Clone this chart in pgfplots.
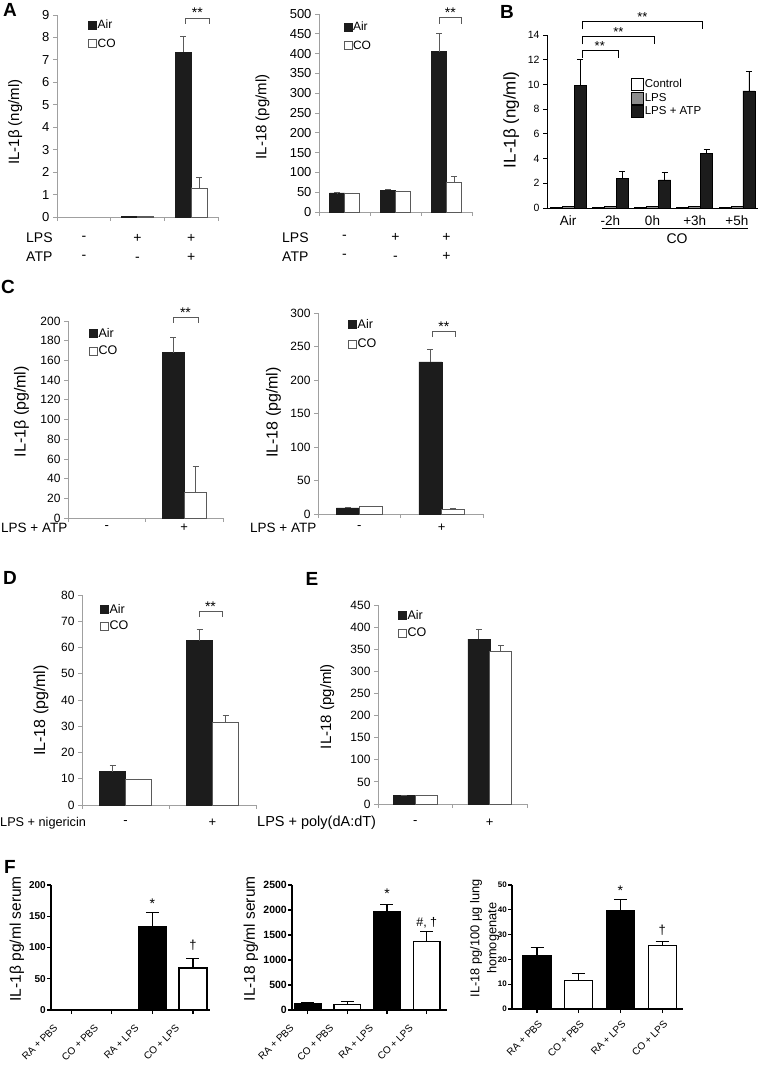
\documentclass[border=0pt]{standalone}
\usepackage{fontspec}
\setmainfont{Liberation Sans}
\usepackage{pgfplots}
\pgfplotsset{compat=1.18}

\newcommand\fs[2]{\fontsize{#1}{#2}\selectfont}
\definecolor{barblk}{HTML}{1C1C1C}
\definecolor{axgray}{HTML}{A0A0A0}
\definecolor{errgray}{HTML}{5A5A5A}
\definecolor{lpsgray}{HTML}{8C8C8C}
\tikzset{br/.style={errgray, line width=0.7pt}}

\pgfplotsset{
  every axis/.append style={scale only axis, anchor=south west, clip=false,
    /pgf/number format/assume math mode=true, /pgf/number format/1000 sep={}},
  % excel look (A, C, D, E)
  xl/.style={
    ybar=0pt, ymin=0,
    axis x line*=bottom, axis y line*=left,
    axis line style={axgray, line width=0.8pt},
    tick style={axgray, line width=0.8pt},
    tick align=outside, major tick length=4pt,
    xticklabels={},
    yticklabel style={font=\fs{13}{15}},
    ylabel style={font=\fs{15}{18}, anchor=center},
    legend style={draw=none, fill=none, anchor=north west, font=\fs{12}{14},
      row sep=6pt, nodes={inner sep=0.8pt}},
    legend cell align=left,
    legend image code/.code={\draw[##1] (0pt,-4pt) rectangle (8pt,4pt);},
  },
  xrow/.style 2 args={extra x tick style={major tick length=0pt,
    xticklabel style={align=center, anchor=center, font=#1, yshift=#2}}},
  air/.style={fill=barblk, draw=barblk,
    error bars/y dir=plus, error bars/y explicit,
    error bars/error bar style={errgray, line width=0.7pt},
    error bars/error mark options={rotate=90, mark size=3pt, errgray, line width=0.7pt}},
  co/.style={fill=white, draw=errgray, line width=0.6pt,
    error bars/y dir=plus, error bars/y explicit,
    error bars/error bar style={errgray, line width=0.7pt},
    error bars/error mark options={rotate=90, mark size=3pt, errgray, line width=0.7pt}},
  % graphpad look (F)
  gp/.style={
    ymin=0,
    axis x line*=bottom, axis y line*=left,
    axis line style={black, line width=1.3pt},
    tick style={black, line width=1.3pt},
    tick align=outside, major tick length=4pt,
    xtick={0,1,2,3}, xticklabels={RA + PBS, CO + PBS, RA + LPS, CO + LPS},
    ylabel style={font=\fs{15.5}{18}, anchor=center, align=center},
  },
  gplab/.style n args={3}{
    xticklabel style={xshift=#1, yshift=#2, rotate=45, anchor=north east,
      font=\fs{10}{12}, inner sep=1pt},
    yticklabel style={font=\bfseries\fs{#3}{11}, inner sep=1pt}},
  gpbar/.style 2 args={ybar, bar shift=0pt, bar width=#1, fill=#2, draw=black, line width=1.3pt,
    error bars/y dir=plus, error bars/y explicit,
    error bars/error bar style={black, line width=1.3pt},
    error bars/error mark options={rotate=90, mark size=6.5pt, black, line width=1.3pt}},
}

\begin{document}
\begin{tikzpicture}
\path[use as bounding box] (0pt,0pt) rectangle (761pt,-1065pt);

% ---------- A left
\begin{axis}[xl, at={(57pt,-217pt)}, width=161pt, height=202pt,
  xmin=-0.5, xmax=2.5, ymax=9, ytick={0,1,...,9}, bar width=16pt,
  xtick={-0.5,0.5,1.5,2.5},
  extra x ticks={0,1,2}, extra x tick labels={{-\\-},{+\\-},{+\\+}},
  xrow={\fs{14}{19}}{-30.5pt},
  ylabel={IL-1β (ng/ml)}, ylabel style={at={(axis description cs:-0.26,0.47)}},
  legend style={at={(axis description cs:0.174,0.99)}, row sep=7pt}]
\addplot[air] coordinates {(1,0.03) (2,7.35) +- (0,0.68)};
\addplot[co] coordinates {(1,0.03) (2,1.3) +- (0,0.45)};
\legend{Air,CO}
\draw[br] (axis cs:1.90,8.6) |- (axis cs:2.33,8.87) -- (axis cs:2.33,8.6);
\node[anchor=base, font=\fs{14}{16}] at (axis cs:2.115,8.87) {**};
\end{axis}

% ---------- A right
\begin{axis}[xl, at={(319pt,-212pt)}, width=153pt, height=198pt,
  xmin=-0.5, xmax=2.5, ymax=500, ytick={0,50,...,500}, bar width=15pt,
  xtick={-0.5,0.5,1.5,2.5},
  extra x ticks={0,1,2}, extra x tick labels={{-\\-},{+\\-},{+\\+}},
  xrow={\fs{14}{19}}{-35pt},
  ylabel={IL-18 (pg/ml)}, ylabel style={at={(axis description cs:-0.37,0.48)}},
  legend style={at={(axis description cs:0.14,0.975)}, row sep=7pt}]
\addplot[air] coordinates {(0,48) +- (0,0.5) (1,55) +- (0,2) (2,405) +- (0,46)};
\addplot[co] coordinates {(0,47) +- (0,1) (1,52) +- (0,0.5) (2,76) +- (0,14)};
\legend{Air,CO}
\draw[br] (axis cs:1.85,475) |- (axis cs:2.30,492) -- (axis cs:2.30,475);
\node[anchor=base, font=\fs{14}{16}] at (axis cs:2.075,492) {**};
\end{axis}

% ---------- B
\begin{axis}[at={(547pt,-208pt)}, width=211pt, height=173pt,
  ybar=0pt, bar width=12pt, ymin=0, ymax=14, ytick={0,2,...,14},
  xmin=-0.5, xmax=4.5,
  axis x line*=bottom, axis y line*=left,
  axis line style={black, line width=0.8pt},
  tick style={black, line width=0.8pt}, tick align=outside, major tick length=4pt,
  xtick={0,...,4}, xticklabels={Air,-2h,0h,+3h,+5h}, xtick style={draw=none},
  xticklabel style={font=\fs{13.5}{15}},
  yticklabel style={font=\fs{10.5}{12}},
  ylabel={IL-1β (ng/ml)},
  ylabel style={font=\fs{17}{20}, anchor=center, at={(axis description cs:-0.17,0.51)}},
  legend style={at={(axis description cs:0.384,0.763)}, anchor=north west, draw=none,
    fill=none, font=\fs{11.5}{13}, row sep=1pt, nodes={inner sep=1pt}},
  legend cell align=left,
  legend image code/.code={\draw[#1] (0pt,-6pt) rectangle (12pt,6pt);}]
\addplot[fill=white, draw=black, line width=0.6pt]
  coordinates {(0,0.05) (1,0.05) (2,0.05) (3,0.05) (4,0.05)};
\addplot[fill=lpsgray, draw=black, line width=0.6pt]
  coordinates {(0,0.1) (1,0.1) (2,0.1) (3,0.1) (4,0.1)};
\addplot[fill=barblk, draw=black, line width=0.6pt,
  error bars/y dir=plus, error bars/y explicit,
  error bars/error bar style={black, line width=0.8pt},
  error bars/error mark options={rotate=90, mark size=3pt, black, line width=0.8pt}]
  coordinates {(0,9.95) +- (0,2.08) (1,2.4) +- (0,0.6) (2,2.27) +- (0,0.6)
               (3,4.42) +- (0,0.33) (4,9.47) +- (0,1.56)};
\legend{Control,LPS,LPS + ATP}
\draw[black, line width=0.7pt] (axis cs:0.327,12.13) |- (axis cs:1.18,12.78) -- (axis cs:1.18,12.13);
\draw[black, line width=0.7pt] (axis cs:0.327,13.25) |- (axis cs:2.05,13.9) -- (axis cs:2.05,13.25);
\draw[black, line width=0.7pt] (axis cs:0.327,14.45) |- (axis cs:3.19,15.1) -- (axis cs:3.19,14.45);
\node[anchor=base, font=\fs{13}{15}] at (axis cs:0.75,12.78) {**};
\node[anchor=base, font=\fs{13}{15}] at (axis cs:1.19,13.9) {**};
\node[anchor=base, font=\fs{13}{15}] at (axis cs:1.76,15.1) {**};
\end{axis}
\draw[line width=0.8pt] (602pt,-228pt) -- (748pt,-228pt);
\node[font=\fs{14}{16}] at (677pt,-239pt) {CO};

% ---------- C left
\begin{axis}[xl, at={(68pt,-518pt)}, width=155pt, height=197pt,
  xmin=-0.5, xmax=1.5, ymax=200, ytick={0,20,...,200}, bar width=22.5pt,
  xtick={-0.5,0.5,1.5},
  extra x ticks={0,1}, extra x tick labels={-,+},
  xrow={\fs{13}{15}}{-10pt},
  yticklabel style={font=\fs{12}{14}},
  ylabel={IL-1β (pg/ml)},
  ylabel style={font=\fs{16}{18}, at={(axis description cs:-0.30,0.54)}},
  legend style={at={(axis description cs:0.116,0.98)}, font=\fs{12.5}{14}, row sep=6pt}]
\addplot[air] coordinates {(1,168) +- (0,15.5)};
\addplot[co] coordinates {(1,26) +- (0,26)};
\legend{Air,CO}
\draw[br] (axis cs:0.855,198) |- (axis cs:1.177,204) -- (axis cs:1.177,198);
\node[anchor=base, font=\fs{14}{16}] at (axis cs:1.016,204) {**};
\end{axis}

% ---------- C right
\begin{axis}[xl, at={(318pt,-514pt)}, width=165pt, height=201pt,
  xmin=-0.5, xmax=1.5, ymax=300, ytick={0,50,...,300}, bar width=23pt,
  xtick={-0.5,0.5,1.5},
  extra x ticks={0,1}, extra x tick labels={-,+},
  xrow={\fs{13}{15}}{-14pt},
  yticklabel style={font=\fs{12}{14}},
  ylabel={IL-18 (pg/ml)},
  ylabel style={font=\fs{16}{18}, at={(axis description cs:-0.27,0.505)}},
  legend style={at={(axis description cs:0.164,0.985)}, font=\fs{12.5}{14}, row sep=8pt}]
\addplot[air] coordinates {(0,9) +- (0,1.2) (1,227) +- (0,19)};
\addplot[co] coordinates {(0,11) +- (0,0.8) (1,7.4) +- (0,0.8)};
\legend{Air,CO}
\draw[br] (axis cs:0.88,264) |- (axis cs:1.17,273) -- (axis cs:1.17,264);
\node[anchor=base, font=\fs{14}{16}] at (axis cs:1.025,273) {**};
\end{axis}

% ---------- D
\begin{axis}[xl, at={(82pt,-805pt)}, width=174pt, height=210pt,
  xmin=-0.5, xmax=1.5, ymax=80, ytick={0,10,...,80}, bar width=26pt,
  xtick={-0.5,0.5,1.5},
  extra x ticks={0,1}, extra x tick labels={-,+},
  xrow={\fs{13}{15}}{-18pt},
  yticklabel style={font=\fs{12}{14}},
  ylabel={IL-18 (pg/ml)},
  ylabel style={font=\fs{16}{18}, at={(axis description cs:-0.235,0.45)}},
  legend style={at={(axis description cs:0.086,0.971)}, font=\fs{12.5}{14}, row sep=5pt}]
\addplot[air] coordinates {(0,12.7) +- (0,2.5) (1,62.6) +- (0,4.3)};
\addplot[co] coordinates {(0,9.8) +- (0,0.15) (1,31.5) +- (0,2.5)};
\legend{Air,CO}
\draw[br] (axis cs:0.845,71.6) |- (axis cs:1.11,73.9) -- (axis cs:1.11,71.6);
\node[anchor=base, font=\fs{14}{16}] at (axis cs:0.977,73.9) {**};
\end{axis}

% ---------- E
\begin{axis}[xl, at={(378pt,-804pt)}, width=149pt, height=199pt,
  xmin=-0.5, xmax=1.5, ymax=450, ytick={0,50,...,450}, bar width=22pt,
  xtick={-0.5,0.5,1.5},
  extra x ticks={0,1}, extra x tick labels={-,+},
  xrow={\fs{13}{15}}{-19pt},
  yticklabel style={font=\fs{12}{14}},
  ylabel={IL-18 (pg/ml)},
  ylabel style={font=\fs{15}{18}, at={(axis description cs:-0.34,0.49)}},
  legend style={at={(axis description cs:0.114,0.99)}, font=\fs{12.5}{14}, row sep=6pt}]
\addplot[air] coordinates {(0,19) +- (0,1.5) (1,373) +- (0,23)};
\addplot[co] coordinates {(0,19) (1,346) +- (0,13)};
\legend{Air,CO}
\end{axis}

% ---------- F left
\begin{axis}[gp, gplab={-18pt}{-8pt}{10}, at={(51pt,-1010pt)}, width=159pt, height=125pt,
  xmin=-0.5, xmax=3.42, ymax=200, ytick={0,50,...,200},
  ylabel={IL-1β pg/ml serum},
  ylabel style={at={(axis description cs:-0.215,0.57)}}]
\addplot[gpbar={28pt}{black}] coordinates {(2,133) +- (0,23)};
\addplot[gpbar={28pt}{white}] coordinates {(3,67) +- (0,15)};
\node[anchor=base, font=\fs{14}{16}] at (axis cs:2,163) {*};
\node[anchor=base, font=\fs{13}{15}] at (axis cs:3,97.6) {†};
\end{axis}

% ---------- F middle
\begin{axis}[gp, gplab={-18pt}{-8pt}{10.5}, at={(292pt,-1010pt)}, width=155pt, height=125pt,
  xmin=-0.39, xmax=3.51, ymax=2500, ytick={0,500,...,2500},
  ylabel={IL-18 pg/ml serum},
  ylabel style={at={(axis description cs:-0.265,0.57)}}]
\addplot[gpbar={26.7pt}{black}] coordinates {(0,120) +- (0,27) (2,1965) +- (0,147)};
\addplot[gpbar={26.7pt}{white}] coordinates {(1,107) +- (0,60) (3,1377) +- (0,200)};
\node[anchor=base, font=\fs{14}{16}] at (axis cs:2,2230) {*};
\node[anchor=base, font=\fs{12.5}{14}] at (axis cs:3,1680) {\#, †};
\end{axis}

% ---------- F right
\begin{axis}[gp, gplab={1pt}{-5pt}{8}, at={(512pt,-1009pt)}, width=171pt, height=124pt,
  xmin=-0.6, xmax=3.5, ymax=50, ytick={0,10,...,50},
  ylabel={IL-18 pg/100 µg lung\\homogenate},
  ylabel style={font=\fs{12.8}{17}, at={(axis description cs:-0.16,0.57)}}]
\addplot[gpbar={28pt}{black}] coordinates {(0,21.6) +- (0,3.1) (2,39.8) +- (0,4.4)};
\addplot[gpbar={28pt}{white}] coordinates {(1,11.6) +- (0,2.6) (3,25.6) +- (0,1.5)};
\node[anchor=base, font=\fs{14}{16}] at (axis cs:2,45.9) {*};
\node[anchor=base, font=\fs{13}{15}] at (axis cs:3,30) {†};
\end{axis}

% ---------- row labels and panel letters
\node[anchor=west, font=\fs{14}{16}, inner sep=0pt] at (26pt,-238pt) {LPS};
\node[anchor=west, font=\fs{14}{16}, inner sep=0pt] at (26pt,-257pt) {ATP};
\node[anchor=west, font=\fs{14}{16}, inner sep=0pt] at (282pt,-238pt) {LPS};
\node[anchor=west, font=\fs{14}{16}, inner sep=0pt] at (282pt,-257pt) {ATP};
\node[anchor=west, font=\fs{13.5}{15}, inner sep=0pt] at (1pt,-528pt) {LPS + ATP};
\node[anchor=west, font=\fs{13.5}{15}, inner sep=0pt] at (250pt,-528pt) {LPS + ATP};
\node[anchor=west, font=\fs{12.7}{15}, inner sep=0pt] at (0pt,-823pt) {LPS + nigericin};
\node[anchor=west, font=\fs{14.5}{16}, inner sep=0pt] at (257pt,-823pt) {LPS + poly(dA:dT)};

\foreach \l/\x/\y in {A/10/10, B/507/12, C/8/287, D/10/578, E/312/579, F/10/867}
  \node[font=\bfseries\fs{19}{22}] at (\x pt,-\y pt) {\l};
\end{tikzpicture}
\end{document}
